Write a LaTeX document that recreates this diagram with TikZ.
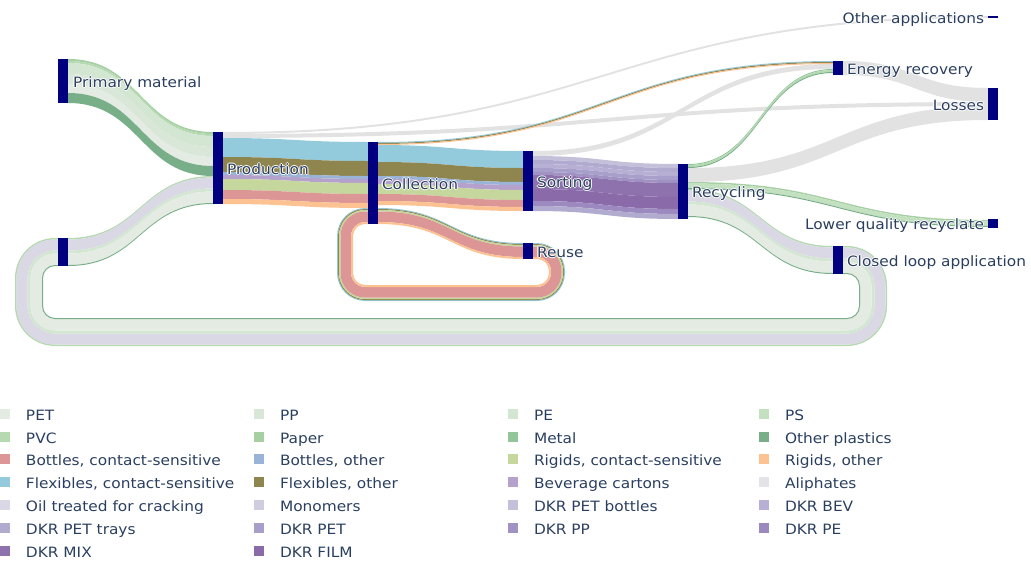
\documentclass[tikz,border=0pt]{standalone}
\usepackage{fontspec}
\setmainfont[FakeStretch=1.08]{DejaVu Sans}
\usetikzlibrary{calc}
\definecolor{pet}{HTML}{E3EBE3}
\definecolor{pp}{HTML}{D9E7D9}
\definecolor{pe}{HTML}{D3E6D2}
\definecolor{ps}{HTML}{C3E0C0}
\definecolor{pvc}{HTML}{B5DAB2}
\definecolor{paper}{HTML}{A6D0A4}
\definecolor{metal}{HTML}{92C59A}
\definecolor{othpl}{HTML}{78AE88}
\definecolor{bcs}{HTML}{DB9695}
\definecolor{both}{HTML}{9AB4D8}
\definecolor{rcs}{HTML}{C6D79E}
\definecolor{roth}{HTML}{FCC291}
\definecolor{fcs}{HTML}{93CBDC}
\definecolor{foth}{HTML}{8F864F}
\definecolor{bev}{HTML}{B4A1CC}
\definecolor{aliph}{HTML}{E3E3E8}
\definecolor{oil}{HTML}{D9D8E4}
\definecolor{mono}{HTML}{D0CDE0}
\definecolor{dpetb}{HTML}{C4C0DA}
\definecolor{dbev}{HTML}{B7B0D4}
\definecolor{dpett}{HTML}{B1ABD0}
\definecolor{dpet}{HTML}{A8A0CB}
\definecolor{dpp}{HTML}{A093C4}
\definecolor{dpe}{HTML}{9C89BF}
\definecolor{dmix}{HTML}{8D72AD}
\definecolor{dfilm}{HTML}{8A6AA8}
\definecolor{lgray}{HTML}{E2E2E2}
\definecolor{navyn}{HTML}{000080}
\definecolor{labc}{HTML}{2A3F5F}
\pgfdeclarelayer{bg}
\pgfsetlayers{bg,main}
% node box: name, x0, y0, x1, y1 (pixels)
\newcommand\nbox[5]{\node[nodebox, minimum width={(#4-#2)*0.02cm}, minimum height={(#5-#3)*0.02cm}] (#1) at ({(#2+#4)/2},{(#3+#5)/2}) {};}
% one sankey band
\newcommand\band[6]{%
 \fill[fill=#6] let \p1=($(#1)+(0,{#2})$), \p2=($(#3)+(0,{#4})$), \p3=($(#1)+(0,{#2+#5})$), \p4=($(#3)+(0,{#4+#5})$) in
 (\p1) .. controls ({(\x1+\x2)/2},\y1) and ({(\x1+\x2)/2},\y2) .. (\p2) -- (\p4) .. controls ({(\x1+\x2)/2},\y4) and ({(\x1+\x2)/2},\y3) .. (\p3) -- cycle;}
% stack of striped bands
\newcommand\bstack[5]{%
 \xdef\accum{0}%
 \foreach \w/\clr in {#5}{%
   \band{#1}{#2+\accum}{#3}{#4+\accum}{\w}{\clr}%
   \pgfmathsetmacro\na{\accum+\w}%
   \global\let\accum\na}}
% stack of striped circular (loop) links
\newcommand\lstack[5]{%
 \xdef\accum{0}%
 \foreach \w/\clr in {#5}{%
   \pgfmathsetmacro\cc{\accum+\w/2}%
   \pgfmathsetmacro\rr{max(\LR-\cc,3)}%
   \draw[draw=\clr, line width=\w*0.02cm, rounded corners=\rr*0.02cm]
     let \p1=($(#1)+(0,{#2+\cc})$), \p2=($(#3)+(0,{#4+\cc})$) in
     (\p1) -- ({\LXr-\cc},\y1) -- ({\LXr-\cc},{\LYb-\cc}) -- ({\LXl+\cc},{\LYb-\cc}) -- ({\LXl+\cc},\y2) -- (\p2);
   \pgfmathsetmacro\na{\accum+\w}%
   \global\let\accum\na}}
\newcommand\halotxt[1]{\leavevmode\rlap{\textcolor{white}{\kern0.6pt#1}}\rlap{\textcolor{white}{\kern-0.6pt#1}}\rlap{\textcolor{white}{\raisebox{0.6pt}{#1}}}\rlap{\textcolor{white}{\raisebox{-0.6pt}{#1}}}#1}
\newcommand\leg[5]{\node[legsq, fill=#3] (#5s) at ({#1+5},#2) {}; \node[lbl, anchor=west] (#5t) at ({#1+26},#2) {#4};}
\begin{document}
\begin{tikzpicture}[x=0.02cm,y=-0.02cm,
  nodebox/.style={fill=navyn, draw=none, inner sep=0pt, outer sep=0pt, rectangle},
  lbl/.style={text=labc, font=\fontsize{8.1pt}{9pt}\selectfont, inner sep=0pt, outer sep=0pt, text height=0.73em, text depth=0pt},
  legsq/.style={draw=none, minimum size=0.2cm, inner sep=0pt, outer sep=0pt, rectangle}]
\useasboundingbox (0,0) rectangle (1031,561);
% nodes
\nbox{prim}{58}{59}{68}{103}
\nbox{prod}{213}{132}{223}{204}
\nbox{loopn}{58}{238}{68}{266}
\nbox{coll}{368}{142}{378}{224}
\nbox{sort}{523}{151}{533}{211}
\nbox{reuse}{523}{243}{533}{259}
\nbox{recy}{678}{164}{688}{219}
\nbox{er}{833}{61}{843}{75}
\nbox{closed}{833}{246}{843}{274}
\nbox{losses}{988}{88}{998}{120}
\nbox{other}{988}{16}{998}{18}
\nbox{lq}{988}{219}{998}{228}
\begin{pgfonlayer}{bg}
\def\LXr{887}\def\LYb{346}\def\LXl{15}\def\LR{40}
\lstack{closed.north east}{0}{loopn.north west}{0}{1.5/pvc,11/oil,3/pe,11.5/pet,1/othpl}
\def\LXr{565}\def\LYb{301}\def\LXl{337}\def\LR{28}
\lstack{reuse.north east}{0}{coll.north west}{66}{1/fcs,1/foth,1.5/rcs,10.5/bcs,2/roth}
\bstack{prim.north east}{0}{prod.north west}{0}{2/paper,2/pvc,11/pe,10/pp,9/pet,10/othpl}
\bstack{loopn.north east}{0}{prod.north west}{44}{1.5/pvc,11/oil,3/pe,11.5/pet,1/othpl}
\bstack{prod.north east}{6}{coll.north west}{0}{19/fcs,15/foth,3/both,4/bev,11/rcs,9/bcs,5/roth}
\bstack{coll.north east}{3}{sort.north west}{0}{17/fcs,14/foth,3/both,5/bev,10/rcs,7/bcs,4/roth}
\bstack{coll.north east}{66}{reuse.north west}{0}{1/fcs,1/foth,1.5/rcs,10.5/bcs,2/roth}
\bstack{sort.north east}{5}{recy.north west}{0}{4/dpetb,4/dpett,4/dbev,4/dpet,3/dpp,14/dmix,12/dfilm,5/dpe,5/dpett}
\bstack{recy.north east}{25}{closed.north west}{0}{1.5/pvc,11/oil,3/pe,11.5/pet,1/othpl}
\bstack{recy.north east}{18}{lq.north west}{1}{1.5/paper,4.5/ps,1/othpl}
\bstack{recy.north east}{4}{losses.north west}{18}{14/lgray}
\bstack{er.north east}{0}{losses.north west}{0}{14/lgray}
\bstack{prod.north east}{2}{losses.north west}{14}{4/lgray}
\bstack{prod.north east}{0}{other.north west}{0}{2/lgray}
\bstack{sort.north east}{0}{er.north west}{3}{5/lgray}
\bstack{coll.north east}{0}{er.north west}{0}{1/fcs,1/foth,1/roth}
\bstack{recy.north east}{0}{er.north west}{8}{1/metal,2/pvc,1/othpl}
\end{pgfonlayer}
% node labels
\node[lbl, anchor=west] (tprim) at ($(prim.east)+(5,0)$) {\halotxt{Primary material}};
\node[lbl, anchor=west] (tprod) at ($(prod.east)+(4,0)$) {\halotxt{Production}};
\node[lbl, anchor=west] (tcoll) at ($(coll.east)+(4,0)$) {\halotxt{Collection}};
\node[lbl, anchor=west] (tsort) at ($(sort.east)+(4,0)$) {\halotxt{Sorting}};
\node[lbl, anchor=west] (treuse) at ($(reuse.east)+(4,0)$) {\halotxt{Reuse}};
\node[lbl, anchor=west] (trecy) at ($(recy.east)+(4,0)$) {\halotxt{Recycling}};
\node[lbl, anchor=west] (ter) at ($(er.east)+(4,0)$) {\halotxt{Energy recovery}};
\node[lbl, anchor=west] (tclosed) at ($(closed.east)+(4,0)$) {\halotxt{Closed loop application}};
\node[lbl, anchor=east] (tother) at ($(other.west)+(-4,0)$) {\halotxt{Other applications}};
\node[lbl, anchor=east] (tlosses) at ($(losses.west)+(-4,0)$) {\halotxt{Losses}};
\node[lbl, anchor=east] (tlq) at ($(lq.west)+(-4,0)$) {\halotxt{Lower quality recyclate}};
% legend
\leg{0}{414}{pet}{PET}{lga}
\leg{254}{414}{pp}{PP}{lgb}
\leg{508}{414}{pe}{PE}{lgc}
\leg{759}{414}{ps}{PS}{lgd}
\leg{0}{437}{pvc}{PVC}{lge}
\leg{254}{437}{paper}{Paper}{lgf}
\leg{508}{437}{metal}{Metal}{lgg}
\leg{759}{437}{othpl}{Other plastics}{lgh}
\leg{0}{459}{bcs}{Bottles, contact-sensitive}{lgi}
\leg{254}{459}{both}{Bottles, other}{lgj}
\leg{508}{459}{rcs}{Rigids, contact-sensitive}{lgk}
\leg{759}{459}{roth}{Rigids, other}{lgl}
\leg{0}{482}{fcs}{Flexibles, contact-sensitive}{lgm}
\leg{254}{482}{foth}{Flexibles, other}{lgn}
\leg{508}{482}{bev}{Beverage cartons}{lgo}
\leg{759}{482}{aliph}{Aliphates}{lgp}
\leg{0}{505}{oil}{Oil treated for cracking}{lgq}
\leg{254}{505}{mono}{Monomers}{lgr}
\leg{508}{505}{dpetb}{DKR PET bottles}{lgs}
\leg{759}{505}{dbev}{DKR BEV}{lgt}
\leg{0}{528}{dpett}{DKR PET trays}{lgu}
\leg{254}{528}{dpet}{DKR PET}{lgv}
\leg{508}{528}{dpp}{DKR PP}{lgw}
\leg{759}{528}{dpe}{DKR PE}{lgx}
\leg{0}{551}{dmix}{DKR MIX}{lgy}
\leg{254}{551}{dfilm}{DKR FILM}{lgz}
\end{tikzpicture}
\end{document}
